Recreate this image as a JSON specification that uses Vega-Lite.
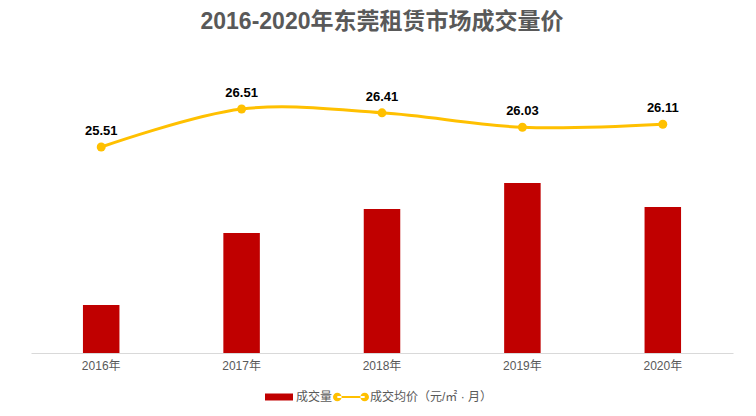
{
  "$schema": "https://vega.github.io/schema/vega-lite/v6.json",
  "autosize": "none",
  "width": 702,
  "height": 293,
  "padding": {"left": 31, "top": 60, "right": 23, "bottom": 63},
  "background": "#ffffff",
  "config": {
    "view": {"stroke": null},
    "font": "Liberation Sans, Noto Sans CJK SC, sans-serif"
  },
  "title": {
    "text": "2016-2020年东莞租赁市场成交量价",
    "fontSize": 23,
    "fontWeight": "bold",
    "color": "#595959",
    "anchor": "middle",
    "offset": 26,
    "font": "Liberation Sans, Noto Sans CJK SC, sans-serif"
  },
  "data": {
    "values": [
      {"year": "2016年", "volume": 48, "price": 25.51},
      {"year": "2017年", "volume": 120, "price": 26.51},
      {"year": "2018年", "volume": 144, "price": 26.41},
      {"year": "2019年", "volume": 170, "price": 26.03},
      {"year": "2020年", "volume": 146, "price": 26.11}
    ]
  },
  "encoding": {
    "x": {
      "field": "year",
      "type": "nominal",
      "sort": null,
      "scale": {"paddingInner": 0.74, "paddingOuter": 0.37},
      "axis": {
        "title": null,
        "labelAngle": 0,
        "labelColor": "#595959",
        "labelFontSize": 12,
        "labelPadding": 7,
        "ticks": false,
        "domainColor": "#d9d9d9",
        "domainWidth": 1,
        "grid": false
      }
    }
  },
  "layer": [
    {
      "mark": {"type": "bar"},
      "encoding": {
        "y": {
          "field": "volume",
          "type": "quantitative",
          "scale": {"domain": [0, 293], "nice": false},
          "axis": null
        },
        "color": {
          "datum": "成交量",
          "type": "nominal",
          "scale": {"range": ["#C00000"]},
          "legend": {
            "title": null,
            "orient": "none",
            "legendX": 234,
            "legendY": 323,
            "padding": 0,
            "symbolType": "M-1,-0.25H1V0.25H-1Z",
            "symbolSize": 784,
            "symbolStrokeWidth": 0,
            "labelFontSize": 12,
            "labelColor": "#595959",
            "labelOffset": 3
          }
        }
      }
    },
    {
      "layer": [
        {
          "mark": {"type": "line", "interpolate": "catmull-rom", "strokeWidth": 3, "color": "#FFC000"},
          "encoding": {
            "y": {
              "field": "price",
              "type": "quantitative",
              "scale": {"domain": [20.09, 27.8], "nice": false, "zero": false},
              "axis": null
            },
            "color": {
              "datum": "成交均价（元/㎡ · 月）",
              "type": "nominal",
              "scale": {"range": ["#FFC000"]},
              "legend": {
                "title": null,
                "orient": "none",
                "legendX": 302,
                "legendY": 319,
                "padding": 0,
                "symbolType": "M-0.76,-0.06H0.76V0.06H-0.76Z M-1,0 A0.24,0.24 0 1,0 -0.52,0 A0.24,0.24 0 1,0 -1,0 Z M0.52,0 A0.24,0.24 0 1,0 1,0 A0.24,0.24 0 1,0 0.52,0 Z",
                "symbolSize": 1296,
                "symbolFillColor": "#FFC000",
                "symbolStrokeWidth": 0,
                "labelFontSize": 12,
                "labelColor": "#595959",
                "labelOffset": 1
              }
            }
          }
        },
        {
          "mark": {"type": "point", "filled": true, "size": 80, "opacity": 1, "color": "#FFC000"},
          "encoding": {
            "y": {"field": "price", "type": "quantitative", "scale": {"domain": [20.09, 27.8], "nice": false, "zero": false}, "axis": null}
          }
        },
        {
          "mark": {"type": "text", "baseline": "bottom", "dy": -9, "fontSize": 13, "fontWeight": "bold", "color": "#000000"},
          "encoding": {
            "y": {"field": "price", "type": "quantitative", "scale": {"domain": [20.09, 27.8], "nice": false, "zero": false}, "axis": null},
            "text": {"field": "price", "type": "quantitative", "format": ".2f"}
          }
        }
      ]
    }
  ],
  "resolve": {"scale": {"y": "independent", "color": "independent"}}
}
